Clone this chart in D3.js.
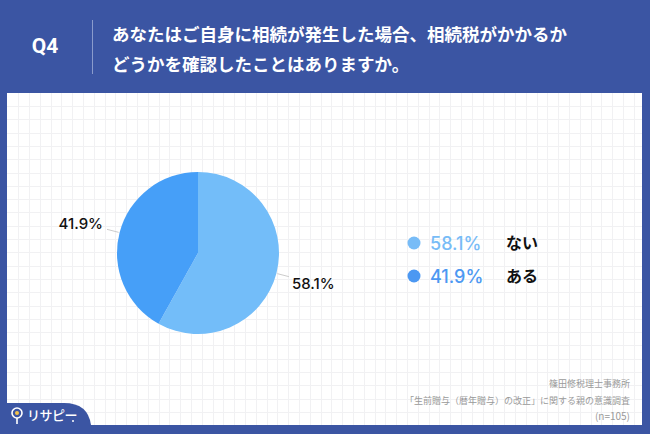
<!DOCTYPE html>
<html><head><meta charset="utf-8">
<script src="https://cdn.jsdelivr.net/npm/d3@7"></script>
<style>body{margin:0;padding:0;background:#3b55a3;}svg{display:block;}</style>
</head><body>
<script>
const categories = ["ない", "ある"];
const values = [58.1, 41.9];
const colors = ["#73bdf9", "#469ff8"];
const legendColors = ["#78bcf7", "#4c98f2"];
const titleLines = ["あなたはご自身に相続が発生した場合、相続税がかかるか", "どうかを確認したことはありますか。"];
const sourceLines = ["篠田修税理士事務所", "「生前贈与（暦年贈与）の改正」に関する親の意識調査", "(n=105)"];

const W = 650, H = 434;
const svg = d3.select("body").append("svg").attr("width", W).attr("height", H);
const font = "'Noto Sans CJK JP', 'Noto Sans', sans-serif";
const numFont = "Inter, 'Noto Sans', sans-serif";

svg.append("rect").attr("width", W).attr("height", H).attr("fill", "#3b55a3");
// white panel
const px = 7, py = 93, pw = 635, ph = 332;
svg.append("rect").attr("x", px).attr("y", py).attr("width", pw).attr("height", ph).attr("fill", "#ffffff");
// grid
const grid = svg.append("g").attr("stroke", "#f1f1f3").attr("stroke-width", 1);
const xs = d3.range(px + 11.2, px + pw, 10.8);
const ys = d3.range(py + 13, py + ph, 13.3);
grid.selectAll("line.v").data(xs).join("line").attr("x1", d => Math.round(d) + 0.5).attr("x2", d => Math.round(d) + 0.5).attr("y1", py).attr("y2", py + ph);
grid.selectAll("line.h").data(ys).join("line").attr("x1", px).attr("x2", px + pw).attr("y1", d => Math.round(d) + 0.5).attr("y2", d => Math.round(d) + 0.5);

// header
svg.append("text").attr("x", 45).attr("y", 53).attr("text-anchor", "middle").attr("fill", "#fff")
  .attr("font-family", "Roboto, 'Noto Sans', sans-serif").attr("font-weight", 700).attr("font-size", 21).text("Q4");
svg.append("line").attr("x1", 92.5).attr("x2", 92.5).attr("y1", 20).attr("y2", 74).attr("stroke", "#8a9bcc").attr("stroke-width", 1);
svg.selectAll("text.title").data(titleLines).join("text").attr("class", "title")
  .attr("x", 112).attr("y", (d, i) => 41 + i * 30).attr("fill", "#fff")
  .attr("font-family", font).attr("font-weight", 700).attr("font-size", 17.5).text(d => d);

// pie
const cx = 198, cy = 253, r = 81;
const pie = d3.pie().sort(null).value(d => d);
const arcs = pie(values);
const arc = d3.arc().innerRadius(0).outerRadius(r);
const g = svg.append("g").attr("transform", `translate(${cx},${cy})`);
g.selectAll("path").data(arcs).join("path").attr("d", arc).attr("fill", (d, i) => colors[i]);

arcs.forEach((a, i) => {
  const mid = (a.startAngle + a.endAngle) / 2;
  const p1 = [Math.sin(mid) * (r + 1), -Math.cos(mid) * (r + 1)];
  const p2 = [Math.sin(mid) * (r + 13), -Math.cos(mid) * (r + 13)];
  g.append("line").attr("x1", p1[0]).attr("y1", p1[1]).attr("x2", p2[0]).attr("y2", p2[1])
    .attr("stroke", "#cccccc").attr("stroke-width", 1);
  const right = Math.sin(mid) > 0;
  g.append("text").attr("x", p2[0] + (right ? 3 : -4)).attr("y", p2[1] + (right ? 12.5 : -0.5))
    .attr("text-anchor", right ? "start" : "end").attr("fill", "#111")
    .attr("font-family", numFont).attr("font-weight", 500).attr("font-size", 15)
    .text(values[i].toFixed(1) + "%");
});

// legend
const lg = svg.append("g");
categories.forEach((c, i) => {
  const y = 243 + i * 33;
  lg.append("circle").attr("cx", 414).attr("cy", y).attr("r", 6.5).attr("fill", legendColors[i]);
  lg.append("text").attr("x", 430).attr("y", y + 6.5).attr("fill", legendColors[i])
    .attr("font-family", numFont).attr("font-weight", 500).attr("font-size", 18)
    .text(values[i].toFixed(1) + "%");
  lg.append("text").attr("x", 506).attr("y", y + 6).attr("fill", "#111")
    .attr("font-family", font).attr("font-weight", 700).attr("font-size", 16).text(c);
});

// source
svg.selectAll("text.src").data(sourceLines).join("text").attr("class", "src")
  .attr("x", 630).attr("y", (d, i) => 387 + i * 16.5).attr("text-anchor", "end")
  .attr("fill", "#9a9a9a").attr("font-family", font).attr("font-size", (d, i) => i === 2 ? 10 : 9).text(d => d);

// bottom-left tab
svg.append("path").attr("d", "M0,403 L64,403 Q88,403 91,425 L92,434 L0,434 Z").attr("fill", "#3b55a3");
const logo = svg.append("g");
logo.append("circle").attr("cx", 17).attr("cy", 413).attr("r", 5).attr("fill", "none").attr("stroke", "#fff").attr("stroke-width", 1.6);
logo.append("circle").attr("cx", 17).attr("cy", 413).attr("r", 2).attr("fill", "#f3c14b");
logo.append("line").attr("x1", 17).attr("x2", 17).attr("y1", 418).attr("y2", 424).attr("stroke", "#fff").attr("stroke-width", 1.6);
logo.append("text").attr("x", 27).attr("y", 420).attr("fill", "#fff").attr("font-family", font).attr("font-weight", 500)
  .attr("font-size", 13).attr("letter-spacing", -0.5).text("リサピー");
logo.append("circle").attr("cx", 73).attr("cy", 421).attr("r", 1).attr("fill", "#fff");
</script>
</body></html>
